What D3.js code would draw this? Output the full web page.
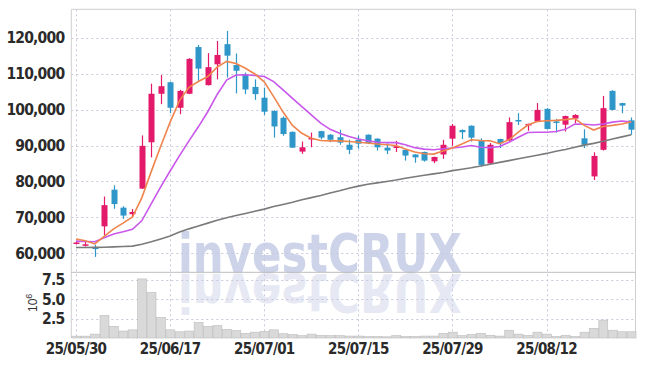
<!DOCTYPE html>
<html><head><meta charset="utf-8">
<script src="https://cdn.jsdelivr.net/npm/d3@7/dist/d3.min.js"></script>
<style>html,body{margin:0;padding:0;background:#fff;} svg{display:block;}</style>
</head><body><svg id="c" width="645" height="366"></svg>
<script>
// ---- data ----
const dates = ["25/05/30","25/06/02","25/06/04","25/06/05","25/06/09","25/06/10","25/06/11","25/06/12","25/06/13","25/06/16",
"25/06/17","25/06/18","25/06/19","25/06/20","25/06/23","25/06/24","25/06/25","25/06/26","25/06/27","25/06/30",
"25/07/01","25/07/02","25/07/03","25/07/04","25/07/07","25/07/08","25/07/09","25/07/10","25/07/11","25/07/14",
"25/07/15","25/07/16","25/07/17","25/07/18","25/07/21","25/07/22","25/07/23","25/07/24","25/07/25","25/07/28",
"25/07/29","25/07/30","25/07/31","25/08/01","25/08/04","25/08/05","25/08/06","25/08/07","25/08/08","25/08/11",
"25/08/12","25/08/13","25/08/14","25/08/18","25/08/19","25/08/20","25/08/21","25/08/22","25/08/25","25/08/26"];
const openP  = [62800,62300,61600,67500,77700,72700,70900,78000,90900,104400,107600,100500,104400,117400,106800,112600,118200,112400,109800,106300,
103300,99600,97700,93800,88300,91700,94000,93000,92300,90200,91600,93000,91900,89400,89300,88800,87500,88200,85600,87500,
91900,94300,95500,91500,85000,91800,91400,97100,95600,96700,100200,96700,95800,97500,92000,81400,88800,105200,101800,97000];
const highP  = [63300,63500,62400,75800,78900,73100,72300,92800,107200,109600,107800,105500,114300,118000,115700,119100,121900,115600,110300,108400,
106100,99800,98100,93900,91100,93600,94100,93200,94400,91600,92800,93100,92000,90600,91300,88900,87600,88300,86900,91600,
96000,94500,95600,92000,90700,91900,97800,99000,96100,101800,100400,97400,98300,98700,94500,88100,103800,105400,101900,97800];
const lowP   = [62500,61900,59000,65000,72400,69600,70000,77900,86700,101500,99000,98700,104300,108000,106700,108400,108900,104500,104300,102700,
98500,92200,92700,89300,87700,89500,91700,90900,90200,87600,89100,90400,88600,87600,88200,85800,85200,85500,85100,86300,
89900,91800,91100,84100,84800,89300,91100,95700,94100,96500,94500,93600,93900,96200,89300,80400,88600,99800,99000,93000];
const closeP = [63000,62500,61300,73400,73700,70500,71500,89900,104400,106500,100500,105200,114100,111400,111800,115200,115000,110800,105600,104300,
99400,95300,93200,89400,89500,92100,92200,91600,90800,88800,90500,90600,89500,88600,89800,87200,86700,85800,86800,90200,
95500,93700,92200,84600,90200,90600,96500,96900,96000,99900,94600,96400,98200,98500,90200,87100,100400,99900,101100,94400];
const volume = [0.24,0.24,0.5,2.9,1.5,0.9,1.05,7.6,5.85,2.65,1.05,0.8,0.9,2.0,1.5,1.6,1.1,0.95,0.6,0.75,
0.85,1.05,0.55,0.45,0.3,0.5,0.35,0.3,0.3,0.25,0.25,0.2,0.2,0.15,0.3,0.2,0.2,0.25,0.25,0.6,
0.75,0.3,0.45,0.6,0.35,0.25,1.0,0.5,0.35,0.75,0.5,0.2,0.35,0.2,0.75,1.25,2.3,1.0,0.8,0.8];
const ma5  = [64000,63500,62600,64700,66800,68400,70100,75500,82800,89800,96500,102500,106200,107800,109200,111800,113400,112800,111500,109900,
107700,103600,99300,95600,93400,92000,91400,91300,91300,91100,90900,90700,90400,90200,90000,89000,88200,87700,87600,88500,
89300,90400,91600,91400,91300,90500,91600,93700,95700,96700,96900,97000,97200,97500,95600,94300,95300,95600,96000,96600];
const ma20 = [63400,63300,63200,64300,65400,66000,66700,69100,73800,78500,82900,87200,91300,95200,99400,104200,108200,109600,109700,109500,
109200,107800,105500,103100,100800,98500,96200,94500,93400,92500,91800,91300,90900,90800,90800,90200,89400,89000,88800,89100,
89300,89600,90000,89500,89400,89700,90900,92300,93600,93700,93700,93900,94500,96000,95900,95700,96000,96500,96800,96500];
const ma60 = [61600,61600,61650,61700,61800,61900,62000,62500,63200,64000,64800,65900,66800,67600,68400,69200,69900,70500,71100,71700,
72300,73000,73600,74200,74900,75500,76100,76800,77400,78100,78700,79200,79600,80000,80400,80900,81300,81700,82100,82500,
83000,83400,83800,84300,84800,85300,85800,86300,86800,87300,87800,88400,88900,89500,90100,90600,91200,91800,92400,93000];
const priceTicks = [60000,70000,80000,90000,100000,110000,120000];
const volTicks = [2.5,5.0,7.5];
const dateTicks = ["25/05/30","25/06/17","25/07/01","25/07/15","25/07/29","25/08/12"];

// ---- layout ----
const L = 71.3, R = 635.5, T = 9.3, PB = 272.3, VB = 338;
const UP = "#e3196a", DOWN = "#2e96c8";
const FONT = "'Liberation Sans Narrow','DejaVu Sans Condensed','Arial Narrow',sans-serif";

const svg = d3.select("#c");
svg.append("rect").attr("width",645).attr("height",366).attr("fill","#fff");

const x = d3.scaleBand().domain(dates).range([L, 636]).paddingInner(0).paddingOuter(0);
const cx = d => x(d) + x.bandwidth()/2;
const y = d3.scaleLinear().domain([54712, 127904]).range([PB, T]);
const yv = d3.scaleLinear().domain([0, 8.45]).range([VB, PB]);

// watermark (with mirrored reflection)
const wm = svg.append("g");
wm.append("text").attr("x",178).attr("y",272)
  .attr("textLength",284).attr("lengthAdjust","spacingAndGlyphs")
  .style("font-family","'DejaVu Sans',sans-serif").style("font-weight","bold").style("font-size","54px")
  .attr("fill","#cdd3e8").text("investCRUX");
wm.append("text").attr("x",178).attr("y",272)
  .attr("transform","translate(0,546) scale(1,-1)")
  .attr("textLength",284).attr("lengthAdjust","spacingAndGlyphs")
  .style("font-family","'DejaVu Sans',sans-serif").style("font-weight","bold").style("font-size","54px")
  .attr("fill","#e6e9f3").text("investCRUX");

// gridlines
const grid = svg.append("g").attr("stroke","#c6c9dc").attr("stroke-width",1).attr("stroke-dasharray","2,3");
grid.selectAll("line.h").data(priceTicks).join("line")
  .attr("x1",L).attr("x2",R).attr("y1",d=>Math.round(y(d))+0.5).attr("y2",d=>Math.round(y(d))+0.5);
grid.selectAll("line.v").data(volTicks).join("line")
  .attr("x1",L).attr("x2",R).attr("y1",d=>Math.round(yv(d))+0.5).attr("y2",d=>Math.round(yv(d))+0.5);
grid.selectAll("line.d").data(dateTicks).join("line")
  .attr("x1",d=>Math.round(cx(d))+0.5).attr("x2",d=>Math.round(cx(d))+0.5).attr("y1",T).attr("y2",VB);

// frame
const fr = svg.append("g").attr("stroke","#cfcfcf").attr("stroke-width",1).attr("fill","none");
fr.append("line").attr("x1",L).attr("x2",R).attr("y1",T).attr("y2",T);
fr.append("line").attr("x1",L).attr("x2",L).attr("y1",T).attr("y2",VB);
fr.append("line").attr("x1",R).attr("x2",R).attr("y1",T).attr("y2",VB);
fr.append("line").attr("x1",L).attr("x2",R).attr("y1",PB).attr("y2",PB).attr("stroke","#bdbdbd");

// volume bars
svg.append("g").selectAll("rect").data(dates).join("rect")
  .attr("x",d=>x(d)+0.5).attr("width",x.bandwidth()-0.5)
  .attr("y",(d,i)=>yv(volume[i])).attr("height",(d,i)=>VB-yv(volume[i]))
  .attr("fill","#d9d9d9").attr("stroke","#bcbcbc").attr("stroke-width",0.6);

// candles
const cg = svg.append("g");
dates.forEach((d,i)=>{
  const col = closeP[i] >= openP[i] ? UP : DOWN;
  const xc = Math.round(cx(d)) + 0.5;
  cg.append("line").attr("x1",xc).attr("x2",xc).attr("y1",y(highP[i])).attr("y2",y(lowP[i]))
    .attr("stroke",col).attr("stroke-width",1.2);
  const top = y(Math.max(openP[i],closeP[i])), bot = y(Math.min(openP[i],closeP[i]));
  cg.append("rect").attr("x",xc-3).attr("width",6).attr("y",top).attr("height",Math.max(1.5,bot-top))
    .attr("fill",col);
});

// moving averages
const line = arr => d3.line().x((d,i)=>cx(dates[i])).y(d=>y(d))(arr);
svg.append("path").attr("d",line(ma60)).attr("fill","none").attr("stroke","#7a7a7a").attr("stroke-width",1.6);
svg.append("path").attr("d",line(ma20)).attr("fill","none").attr("stroke","#c957ea").attr("stroke-width",1.6);
svg.append("path").attr("d",line(ma5)).attr("fill","none").attr("stroke","#ef844d").attr("stroke-width",1.6);

// axes
const ax = svg.append("g").attr("transform",`translate(${L},0)`)
  .call(d3.axisLeft(y).tickValues(priceTicks).tickSize(0).tickPadding(7).tickFormat(d3.format(",")));
const av = svg.append("g").attr("transform",`translate(${L},0)`)
  .call(d3.axisLeft(yv).tickValues(volTicks).tickSize(0).tickPadding(7).tickFormat(d3.format(".1f")));
const axb = svg.append("g").attr("transform",`translate(0,${VB})`)
  .call(d3.axisBottom(x).tickValues(dateTicks).tickSize(0).tickPadding(5));
[ax,av,axb].forEach(g=>{
  g.select(".domain").remove();
  g.selectAll("text").style("font-family",FONT).style("font-weight","bold").style("font-size","15.5px")
    .style("letter-spacing","-0.8px").attr("fill","#2a2a2a");
});
axb.selectAll("text").style("font-size","15px").style("letter-spacing","-0.7px");

// 10^6 label
const ul = svg.append("text").attr("transform","translate(37,312) rotate(-90)")
  .style("font-family","'Liberation Sans','DejaVu Sans',sans-serif").style("font-size","12px").attr("fill","#333");
ul.append("tspan").text("10");
ul.append("tspan").attr("dy",-5).style("font-size","9px").text("6");
</script></body></html>
